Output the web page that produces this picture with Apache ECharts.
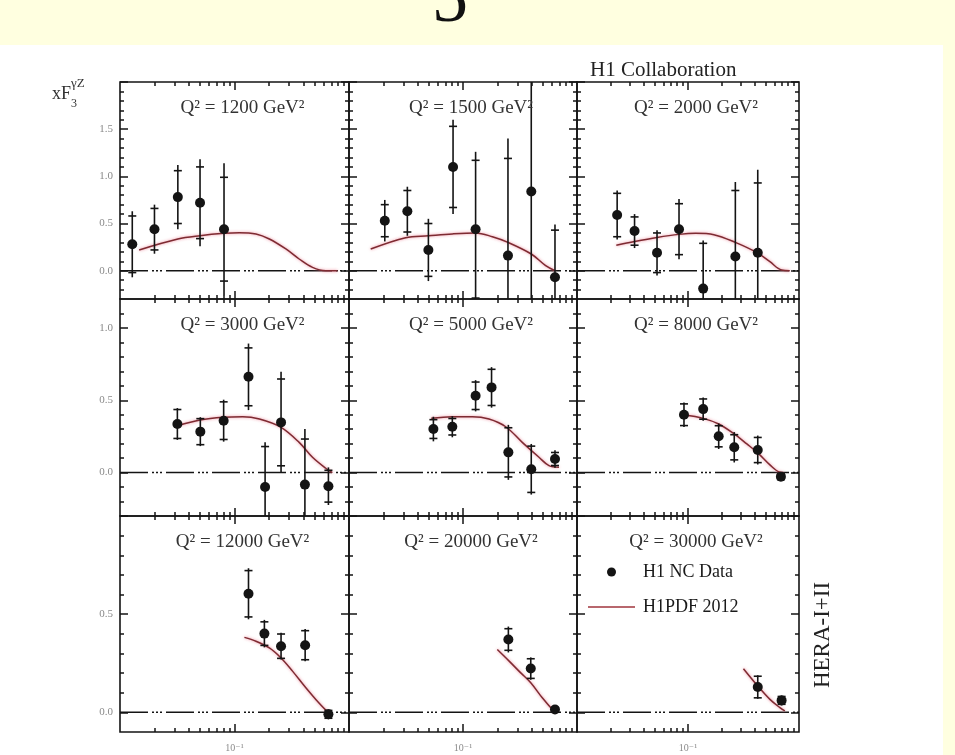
<!DOCTYPE html>
<html><head><meta charset="utf-8">
<script src="https://cdn.jsdelivr.net/npm/echarts@6/dist/echarts.min.js"></script>
<style>html,body{margin:0;padding:0;background:#FFFFE0;}#c{width:955px;height:755px;}</style>
</head><body><div id="c"></div>
<script>
// ---------------- data ----------------
const panelQ2 = [1200, 1500, 2000, 3000, 5000, 8000, 12000, 20000, 30000];
const rowYMin = [-0.3, -0.3, -0.1];
const rowYMax = [2.0, 1.2, 1.0];
const rowYLabels = [[0, 0.5, 1.0, 1.5], [0, 0.5, 1.0], [0, 0.5]];
const xMajorTicks = [0.1];
const xMinorTicks = [0.02, 0.03, 0.04, 0.05, 0.06, 0.07, 0.08, 0.09, 0.2, 0.3, 0.4, 0.5, 0.6, 0.7, 0.8, 0.9];
const xTickLabels = ['10⁻¹'];

// points: [x, xF3, stat. error, total error]
const pts1200 = [[0.0128, 0.28, 0.30, 0.35], [0.020, 0.44, 0.22, 0.26], [0.032, 0.78, 0.28, 0.34], [0.050, 0.72, 0.38, 0.46], [0.081, 0.44, 0.55, 0.70]];
const pts1500 = [[0.0206, 0.53, 0.17, 0.22], [0.0325, 0.63, 0.22, 0.26], [0.0497, 0.22, 0.28, 0.33], [0.0818, 1.10, 0.43, 0.50], [0.129, 0.44, 0.73, 0.82], [0.248, 0.16, 1.03, 1.24], [0.397, 0.84, 1.30, 1.50], [0.641, -0.07, 0.50, 0.56]];
const pts2000 = [[0.0230, 0.59, 0.23, 0.26], [0.033, 0.42, 0.15, 0.18], [0.0526, 0.19, 0.21, 0.24], [0.083, 0.44, 0.27, 0.32], [0.137, -0.19, 0.48, 0.51], [0.267, 0.15, 0.70, 0.79], [0.425, 0.19, 0.74, 0.88]];
const pts3000 = [[0.0317, 0.336, 0.10, 0.11], [0.0503, 0.283, 0.09, 0.10], [0.0804, 0.359, 0.13, 0.145], [0.1325, 0.662, 0.20, 0.23], [0.185, -0.10, 0.28, 0.31], [0.255, 0.347, 0.30, 0.35], [0.412, -0.083, 0.315, 0.384], [0.661, -0.094, 0.11, 0.13]];
const pts5000 = [[0.055, 0.301, 0.065, 0.085], [0.0806, 0.317, 0.057, 0.073], [0.129, 0.531, 0.095, 0.108], [0.178, 0.589, 0.125, 0.14], [0.250, 0.140, 0.17, 0.19], [0.397, 0.023, 0.16, 0.175], [0.641, 0.094, 0.045, 0.06]];
const pts8000 = [[0.092, 0.40, 0.075, 0.085], [0.137, 0.439, 0.07, 0.08], [0.189, 0.251, 0.073, 0.088], [0.261, 0.175, 0.087, 0.105], [0.425, 0.156, 0.087, 0.10], [0.687, -0.028, 0.02, 0.03]];
const pts12000 = [[0.1325, 0.604, 0.118, 0.13], [0.1824, 0.401, 0.06, 0.07], [0.255, 0.337, 0.062, 0.068], [0.414, 0.342, 0.074, 0.082], [0.661, -0.01, 0.02, 0.025]];
const pts20000 = [[0.250, 0.371, 0.055, 0.066], [0.393, 0.223, 0.05, 0.057], [0.641, 0.015, 0.01, 0.012]];
const pts30000 = [[0.425, 0.129, 0.055, 0.06], [0.697, 0.061, 0.02, 0.025]];

// H1PDF 2012 curves: [x, xF3]
const pdf1200 = [[0.0147, 0.22], [0.032, 0.336], [0.050, 0.371], [0.081, 0.396], [0.110, 0.403], [0.154, 0.389], [0.2015, 0.336], [0.281, 0.23], [0.367, 0.124], [0.48, 0.035], [0.627, 0.0], [0.79, 0.0]];
const pdf1500 = [[0.0155, 0.23], [0.0314, 0.35], [0.0497, 0.37], [0.0806, 0.39], [0.129, 0.40], [0.181, 0.36], [0.248, 0.30], [0.397, 0.177], [0.531, 0.053], [0.641, 0.0]];
const pdf2000 = [[0.0226, 0.27], [0.033, 0.31], [0.0526, 0.353], [0.083, 0.385], [0.117, 0.396], [0.171, 0.382], [0.267, 0.30], [0.425, 0.187], [0.547, 0.095], [0.697, 0.007], [0.826, 0.0]];
const pdf3000 = [[0.0317, 0.324], [0.050, 0.363], [0.080, 0.382], [0.118, 0.386], [0.165, 0.370], [0.255, 0.313], [0.367, 0.209], [0.48, 0.106], [0.627, 0.03], [0.716, 0.0]];
const pdf5000 = [[0.0527, 0.375], [0.0806, 0.386], [0.121, 0.386], [0.169, 0.370], [0.237, 0.317], [0.331, 0.209], [0.464, 0.106], [0.568, 0.048], [0.695, 0.037]];
const pdf8000 = [[0.092, 0.40], [0.137, 0.375], [0.189, 0.336], [0.261, 0.267], [0.339, 0.198], [0.425, 0.136], [0.547, 0.053], [0.673, 0.002], [0.72, 0.0]];
const pdf12000 = [[0.122, 0.382], [0.154, 0.362], [0.2015, 0.328], [0.255, 0.277], [0.321, 0.21], [0.42, 0.125], [0.513, 0.066], [0.627, 0.012], [0.67, 0.0]];
const pdf20000 = [[0.200, 0.32], [0.254, 0.261], [0.321, 0.201], [0.393, 0.151], [0.496, 0.074], [0.608, 0.015], [0.641, 0.007]];
const pdf30000 = [[0.316, 0.222], [0.425, 0.134], [0.547, 0.066], [0.673, 0.024], [0.745, 0.007]];

const panelPts = [pts1200, pts1500, pts2000, pts3000, pts5000, pts8000, pts12000, pts20000, pts30000];
const panelPdf = [pdf1200, pdf1500, pdf2000, pdf3000, pdf5000, pdf8000, pdf12000, pdf20000, pdf30000];

// ---------------- layout ----------------
const colLeft = [120, 349, 577];
const colWidth = [229, 228, 222];
const rowTop = [82, 299, 516];
const rowHeight = [217, 217, 216];
const SERIF = "'Liberation Serif', 'DejaVu Serif', serif";
const INK = '#141414';
const tickStyle = { color: INK, width: 1.5 };

function tenths(min, max) {
  const a = [];
  for (let k = Math.round(min * 10) + 1; k < Math.round(max * 10); k++) a.push(k / 10);
  return a;
}
function halves(min, max) {
  const a = [];
  for (let k = Math.ceil(min * 2); k <= Math.floor(max * 2); k++) a.push(k / 2);
  return a;
}

const grids = [], xAxes = [], yAxes = [], series = [], graphics = [];

graphics.push({ type: 'rect', z: -100, shape: { x: 0, y: 45, width: 943, height: 710 }, style: { fill: '#ffffff' } });
graphics.push({ type: 'text', z: -200, x: 450, y: 2, style: { text: '5', fontSize: 72, fontFamily: SERIF, fill: '#111', align: 'center', verticalAlign: 'middle' } });

for (let i = 0; i < 9; i++) {
  const r = Math.floor(i / 3), c = i % 3;
  grids.push({
    left: colLeft[c], top: rowTop[r], width: colWidth[c], height: rowHeight[r],
    show: true, borderColor: INK, borderWidth: 1.6, backgroundColor: 'transparent',
    containLabel: false, outerBoundsMode: 'none'
  });
  const xBase = { type: 'log', logBase: 10, min: 0.01, max: 1, gridIndex: i,
    axisLine: { show: false, onZero: false }, splitLine: { show: false }, minorTick: { show: false } };
  xAxes.push(Object.assign({}, xBase, { position: 'bottom',
    axisTick: { show: true, inside: true, length: 8, customValues: xMajorTicks, lineStyle: tickStyle },
    axisLabel: { show: r === 2, customValues: xMajorTicks, formatter: (v) => xTickLabels[0],
      color: '#8a8a8a', fontSize: 10, fontFamily: SERIF, margin: 11 } }));
  xAxes.push(Object.assign({}, xBase, { position: 'bottom',
    axisTick: { show: true, inside: true, length: 4, customValues: xMinorTicks, lineStyle: tickStyle },
    axisLabel: { show: false } }));
  xAxes.push(Object.assign({}, xBase, { position: 'top',
    axisTick: { show: true, inside: true, length: 8, customValues: xMajorTicks, lineStyle: tickStyle },
    axisLabel: { show: false } }));
  xAxes.push(Object.assign({}, xBase, { position: 'top',
    axisTick: { show: true, inside: true, length: 4, customValues: xMinorTicks, lineStyle: tickStyle },
    axisLabel: { show: false } }));

  const ymin = rowYMin[r], ymax = rowYMax[r];
  const yBase = { type: 'value', min: ymin, max: ymax, gridIndex: i,
    axisLine: { show: false, onZero: false }, splitLine: { show: false } };
  const major = halves(ymin, ymax), minor = tenths(ymin, ymax);
  yAxes.push(Object.assign({}, yBase, { position: 'left',
    axisTick: { show: true, inside: true, length: 8, customValues: major, lineStyle: tickStyle },
    axisLabel: { show: c === 0, customValues: rowYLabels[r], formatter: (v) => v.toFixed(1),
      color: '#8a8a8a', fontSize: 11, fontFamily: SERIF, margin: 7 } }));
  yAxes.push(Object.assign({}, yBase, { position: 'left',
    axisTick: { show: true, inside: true, length: 4, customValues: minor, lineStyle: tickStyle },
    axisLabel: { show: false } }));
  yAxes.push(Object.assign({}, yBase, { position: 'right',
    axisTick: { show: true, inside: true, length: 8, customValues: major, lineStyle: tickStyle },
    axisLabel: { show: false } }));
  yAxes.push(Object.assign({}, yBase, { position: 'right',
    axisTick: { show: true, inside: true, length: 4, customValues: minor, lineStyle: tickStyle },
    axisLabel: { show: false } }));

  const xi = 4 * i, yi = 4 * i;
  // zero line
  series.push({ type: 'line', name: 'zero', xAxisIndex: xi, yAxisIndex: yi, silent: true, z: 1,
    data: [[0.01, 0], [1, 0]], symbol: 'none',
    lineStyle: { color: INK, width: 1.5, type: [28, 4, 2, 2, 2, 2, 2, 4] } });
  // H1PDF curve
  series.push({ type: 'line', name: 'H1PDF 2012', xAxisIndex: xi, yAxisIndex: yi, z: 2,
    data: panelPdf[i], symbol: 'none', smooth: 0.35, color: '#a0343c',
    lineStyle: { color: '#7e2b32', width: 1.5, shadowColor: 'rgba(235,120,140,0.9)', shadowBlur: 3 } });
  // error bars
  series.push({ type: 'custom', name: 'err', xAxisIndex: xi, yAxisIndex: yi, z: 3, clip: true,
    data: panelPts[i], encode: { x: 0, y: 1 },
    renderItem: function (params, api) {
      const x = api.value(0), y = api.value(1), s = api.value(2), t = api.value(3);
      const c0 = api.coord([x, y]);
      const top = api.coord([x, y + t]), bot = api.coord([x, y - t]);
      const st = api.coord([x, y + s]), sb = api.coord([x, y - s]);
      const w = 4, style = { stroke: INK, lineWidth: 1.6 };
      return { type: 'group', children: [
        { type: 'line', shape: { x1: c0[0], y1: top[1], x2: c0[0], y2: bot[1] }, style: style },
        { type: 'line', shape: { x1: c0[0] - w, y1: st[1], x2: c0[0] + w, y2: st[1] }, style: style },
        { type: 'line', shape: { x1: c0[0] - w, y1: sb[1], x2: c0[0] + w, y2: sb[1] }, style: style }
      ] };
    } });
  // data points
  series.push({ type: 'scatter', name: 'H1 NC Data', xAxisIndex: xi, yAxisIndex: yi, z: 4,
    data: panelPts[i].map(p => [p[0], p[1]]), symbol: 'circle', symbolSize: 10, color: INK,
    itemStyle: { color: INK, opacity: 1 } });

  // panel title
  graphics.push({ type: 'text', z: 100, x: colLeft[c] + colWidth[c] / 2 + 8, y: rowTop[r] + 26,
    style: { text: 'Q² = ' + panelQ2[i] + ' GeV²', fontSize: 19, fontFamily: SERIF, fill: '#333',
      align: 'center', verticalAlign: 'middle' } });
}

graphics.push({ type: 'text', z: 100, x: 590, y: 70,
  style: { text: 'H1 Collaboration', fontSize: 21, fontFamily: SERIF, fill: '#222', align: 'left', verticalAlign: 'middle' } });
graphics.push({ type: 'text', z: 100, x: 823, y: 635, rotation: Math.PI / 2,
  style: { text: 'HERA-I+II', fontSize: 23, fontFamily: SERIF, fill: '#222', align: 'center', verticalAlign: 'middle' } });
graphics.push({ type: 'text', z: 100, x: 71, y: 94,
  style: { text: 'xF', fontSize: 18, fontFamily: SERIF, fill: '#333', align: 'right', verticalAlign: 'middle' } });
graphics.push({ type: 'text', z: 100, x: 71, y: 84,
  style: { text: 'γZ', fontSize: 13, fontFamily: SERIF, fill: '#333', align: 'left', verticalAlign: 'middle' } });
graphics.push({ type: 'text', z: 100, x: 71, y: 104,
  style: { text: '3', fontSize: 12, fontFamily: SERIF, fill: '#333', align: 'left', verticalAlign: 'middle' } });

const chart = echarts.init(document.getElementById('c'), null, { renderer: 'canvas' });
chart.setOption({
  backgroundColor: '#FFFFE0',
  animation: false,
  grid: grids,
  xAxis: xAxes,
  yAxis: yAxes,
  series: series,
  graphic: { elements: graphics },
  legend: {
    left: 583, top: 558, orient: 'vertical', selectedMode: false,
    itemWidth: 47, itemHeight: 9, itemGap: 17,
    textStyle: { fontFamily: SERIF, fontSize: 18, color: '#1a1a1a', padding: [0, 0, 0, 3] },
    data: [
      { name: 'H1 NC Data', icon: 'circle', itemStyle: { color: INK, opacity: 1 } },
      { name: 'H1PDF 2012', icon: 'path://M0 0H47V1.6H0Z' }
    ]
  }
});
</script></body></html>
